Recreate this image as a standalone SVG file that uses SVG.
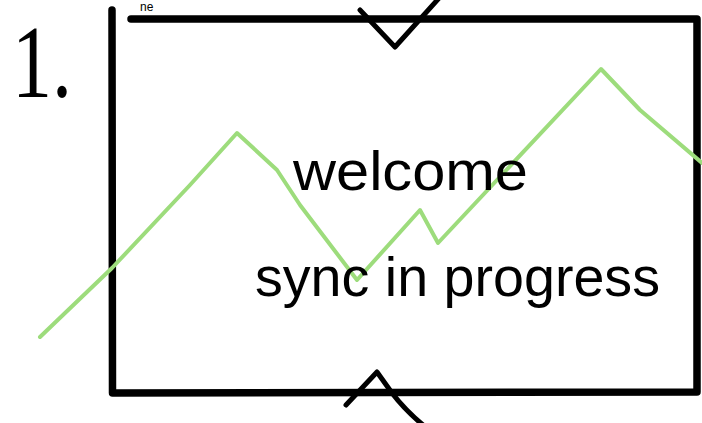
<svg xmlns="http://www.w3.org/2000/svg" width="702" height="423" viewBox="0 0 702 423">
<style>
.ink{fill:none;stroke:#000;stroke-linecap:round;stroke-linejoin:round}
.frame{stroke-width:7.5}
.mark{stroke-width:5}
.green{fill:none;stroke:#9ddc7c;stroke-width:4;stroke-linecap:round;stroke-linejoin:round}
.hand{font-family:"Liberation Sans","DejaVu Sans",sans-serif;fill:#000}
</style>
<rect width="702" height="423" fill="#fff"/>
<g id="frame">
<path class="ink frame" d="M112 10 L112.5 393 L697 392 L697 19 L131 19"/>
</g>
<g id="marks">
<path class="ink mark" d="M360 10 L395 47 L440 -3"/>
<path class="ink mark" d="M346 405 L377 372 L392 393 Q405 410 423 425"/>
</g>
<g id="chart">
<path class="green" d="M40 337 L112 268 L190 185 L237 133 L277 170 L300 205 L357 280 L420 210 L438 243 L601 69 L640 110 L702 163"/>
</g>
<g id="labels">
<text class="hand" x="12" y="97" font-size="104" textLength="60" lengthAdjust="spacingAndGlyphs" style="font-family:'Liberation Serif',serif">1.</text>
<text class="hand" x="140" y="11" font-size="12">ne</text>
<text class="hand" x="293" y="190" font-size="56" textLength="235" lengthAdjust="spacingAndGlyphs">welcome</text>
<text class="hand" x="255" y="296" font-size="56" textLength="405" lengthAdjust="spacingAndGlyphs">sync in progress</text>
</g>
</svg>
